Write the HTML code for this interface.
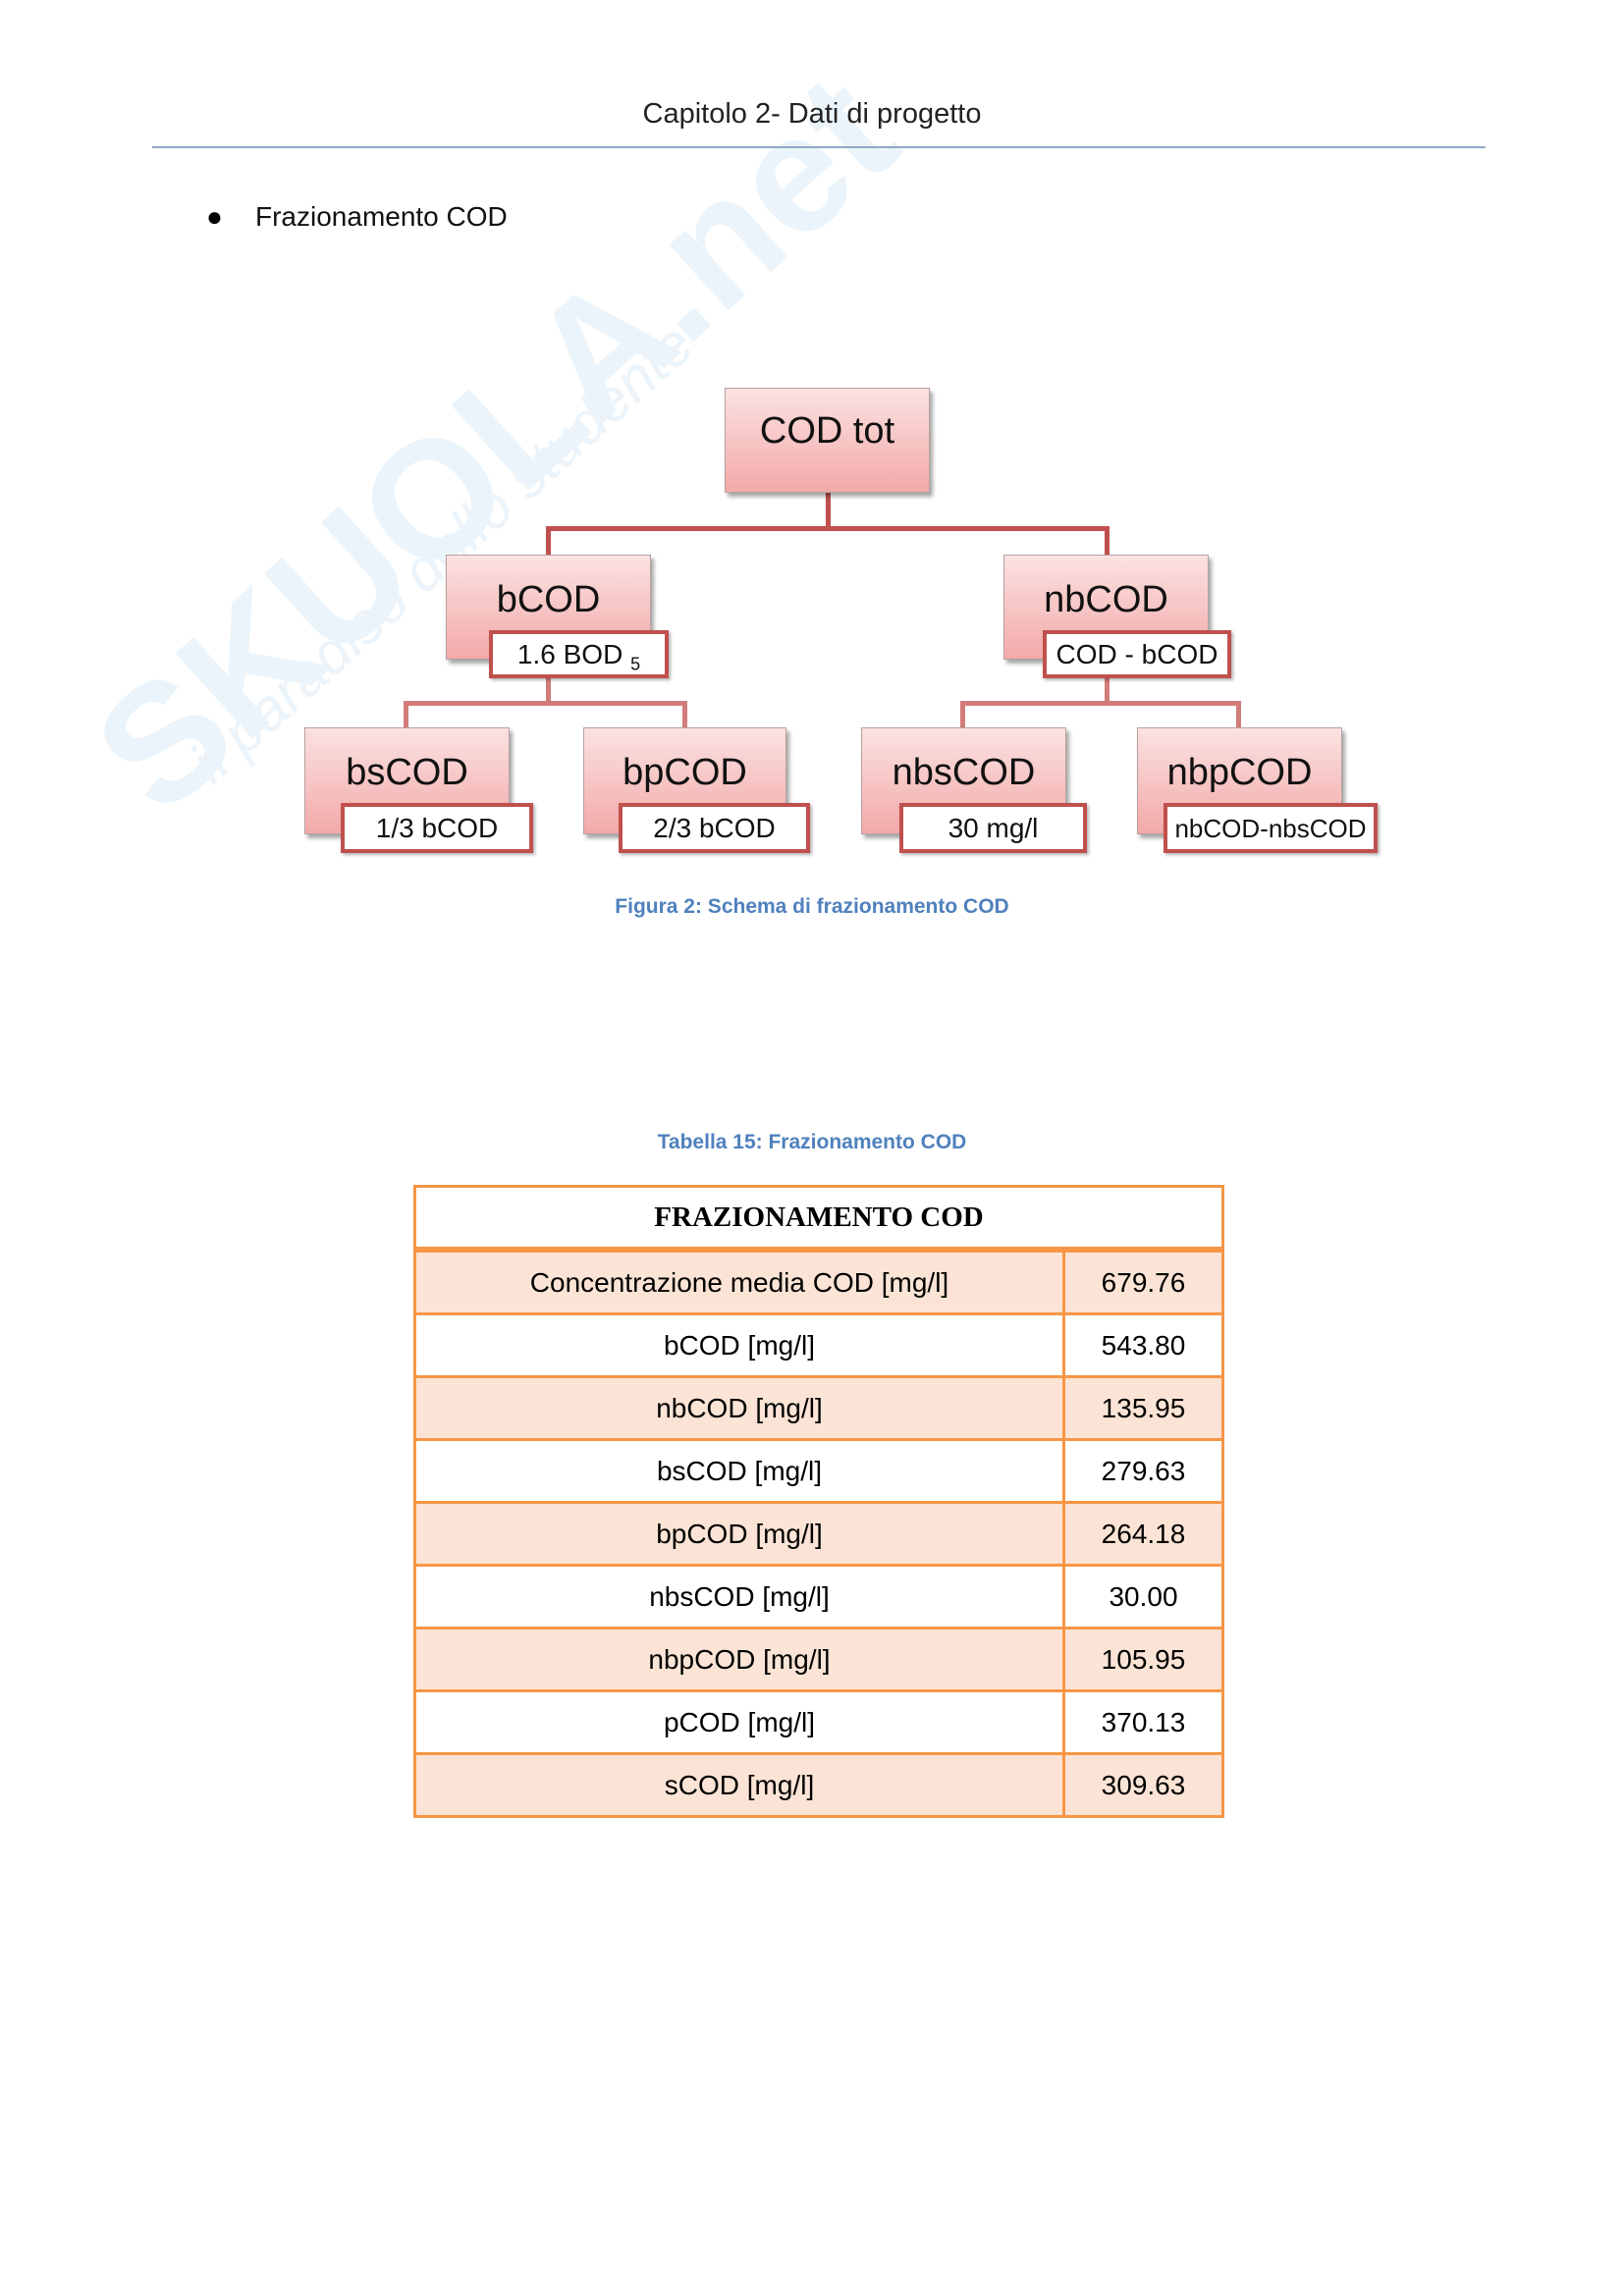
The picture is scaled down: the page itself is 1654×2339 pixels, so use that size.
<!DOCTYPE html>
<html><head><meta charset="utf-8"><style>
body{margin:0;width:1654px;height:2339px;background:#fff;position:relative;overflow:hidden;font-family:"Liberation Sans",sans-serif;}
.a{position:absolute;}
.box{position:absolute;background:linear-gradient(#fbe2e2,#f3a9a9);border:1px solid #b8a0a0;box-shadow:3px 4px 4px rgba(0,0,0,.35);font-size:38px;text-align:center;box-sizing:border-box;color:#111;}
.sub{position:absolute;background:#fff;border:4px solid #c0504d;box-sizing:border-box;font-size:28px;text-align:center;color:#111;box-shadow:2px 2px 3px rgba(0,0,0,.3);}
.l{position:absolute;background:#c0504d;}
.l2{position:absolute;background:#d27c7a;}
table{position:absolute;left:421px;top:1207px;width:826px;border-collapse:collapse;}
td{border:3px solid #f79646;height:61px;font-size:28px;text-align:center;padding:0;}
tr.s td{background:#fbe4d5;}
</style></head><body>
<div class="a" style="left:60px;font-size:170px;font-weight:bold;color:#ebf4fa;transform:rotate(-42deg);transform-origin:left top;white-space:nowrap;top:720px;">SKUOLA.net</div>
<div class="a" style="left:180px;top:760px;font-size:60px;font-style:italic;color:#ebf4fa;transform:rotate(-42deg);transform-origin:left top;white-space:nowrap;">il paradiso dello studente</div>

<div class="a" style="left:0;width:1654px;top:100px;text-align:center;font-size:29px;color:#222;">Capitolo 2- Dati di progetto</div>
<div class="a" style="left:155px;width:1358px;top:149px;height:2px;background:#8fa8c8;"></div>
<div class="a" style="left:210px;top:205px;font-size:28px;">●</div>
<div class="a" style="left:260px;top:205px;font-size:28px;color:#111;">Frazionamento COD</div>

<div class="l" style="left:841px;top:502px;width:5px;height:38px;"></div>
<div class="l" style="left:556px;top:536px;width:574px;height:5px;"></div>
<div class="l" style="left:556px;top:536px;width:5px;height:30px;"></div>
<div class="l" style="left:1125px;top:536px;width:5px;height:30px;"></div>
<div class="l2" style="left:556px;top:690px;width:5px;height:26px;"></div>
<div class="l2" style="left:411px;top:714px;width:289px;height:5px;"></div>
<div class="l2" style="left:411px;top:714px;width:5px;height:28px;"></div>
<div class="l2" style="left:695px;top:714px;width:5px;height:28px;"></div>
<div class="l2" style="left:1125px;top:690px;width:5px;height:26px;"></div>
<div class="l2" style="left:978px;top:714px;width:286px;height:5px;"></div>
<div class="l2" style="left:978px;top:714px;width:5px;height:28px;"></div>
<div class="l2" style="left:1259px;top:714px;width:5px;height:28px;"></div>

<div class="box" style="left:738px;top:395px;width:209px;height:107px;padding-top:22px;">COD tot</div>
<div class="box" style="left:454px;top:565px;width:209px;height:107px;padding-top:24px;">bCOD</div>
<div class="box" style="left:1022px;top:565px;width:209px;height:107px;padding-top:24px;">nbCOD</div>
<div class="sub" style="left:498px;top:642px;width:183px;height:49px;padding-top:5px;">1.6 BOD <sub style="font-size:18px">5</sub></div>
<div class="sub" style="left:1062px;top:642px;width:192px;height:49px;padding-top:5px;">COD - bCOD</div>

<div class="box" style="left:310px;top:741px;width:209px;height:109px;padding-top:24px;">bsCOD</div>
<div class="box" style="left:594px;top:741px;width:207px;height:109px;padding-top:24px;">bpCOD</div>
<div class="box" style="left:877px;top:741px;width:209px;height:109px;padding-top:24px;">nbsCOD</div>
<div class="box" style="left:1158px;top:741px;width:209px;height:109px;padding-top:24px;">nbpCOD</div>
<div class="sub" style="left:347px;top:818px;width:196px;height:51px;padding-top:6px;">1/3 bCOD</div>
<div class="sub" style="left:630px;top:818px;width:195px;height:51px;padding-top:6px;">2/3 bCOD</div>
<div class="sub" style="left:916px;top:818px;width:191px;height:51px;padding-top:6px;">30 mg/l</div>
<div class="sub" style="left:1185px;top:818px;width:218px;height:51px;padding-top:7px;font-size:26px;">nbCOD-nbsCOD</div>

<div class="a" style="left:0;width:1654px;top:912px;text-align:center;font-size:21px;font-weight:bold;color:#4f81bd;">Figura 2: Schema di frazionamento COD</div>
<div class="a" style="left:0;width:1654px;top:1152px;text-align:center;font-size:21px;font-weight:bold;color:#4f81bd;">Tabella 15: Frazionamento COD</div>

<table>
<tr><td colspan="2" style="font-family:'Liberation Serif',serif;font-weight:bold;font-size:29px;border-bottom:6px solid #f79646;height:60px;">FRAZIONAMENTO COD</td></tr>
<tr class="s"><td style="width:658px">Concentrazione media COD [mg/l]</td><td>679.76</td></tr>
<tr><td>bCOD [mg/l]</td><td>543.80</td></tr>
<tr class="s"><td>nbCOD [mg/l]</td><td>135.95</td></tr>
<tr><td>bsCOD [mg/l]</td><td>279.63</td></tr>
<tr class="s"><td>bpCOD [mg/l]</td><td>264.18</td></tr>
<tr><td>nbsCOD [mg/l]</td><td>30.00</td></tr>
<tr class="s"><td>nbpCOD [mg/l]</td><td>105.95</td></tr>
<tr><td>pCOD [mg/l]</td><td>370.13</td></tr>
<tr class="s"><td>sCOD [mg/l]</td><td>309.63</td></tr>
</table>
</body></html>
